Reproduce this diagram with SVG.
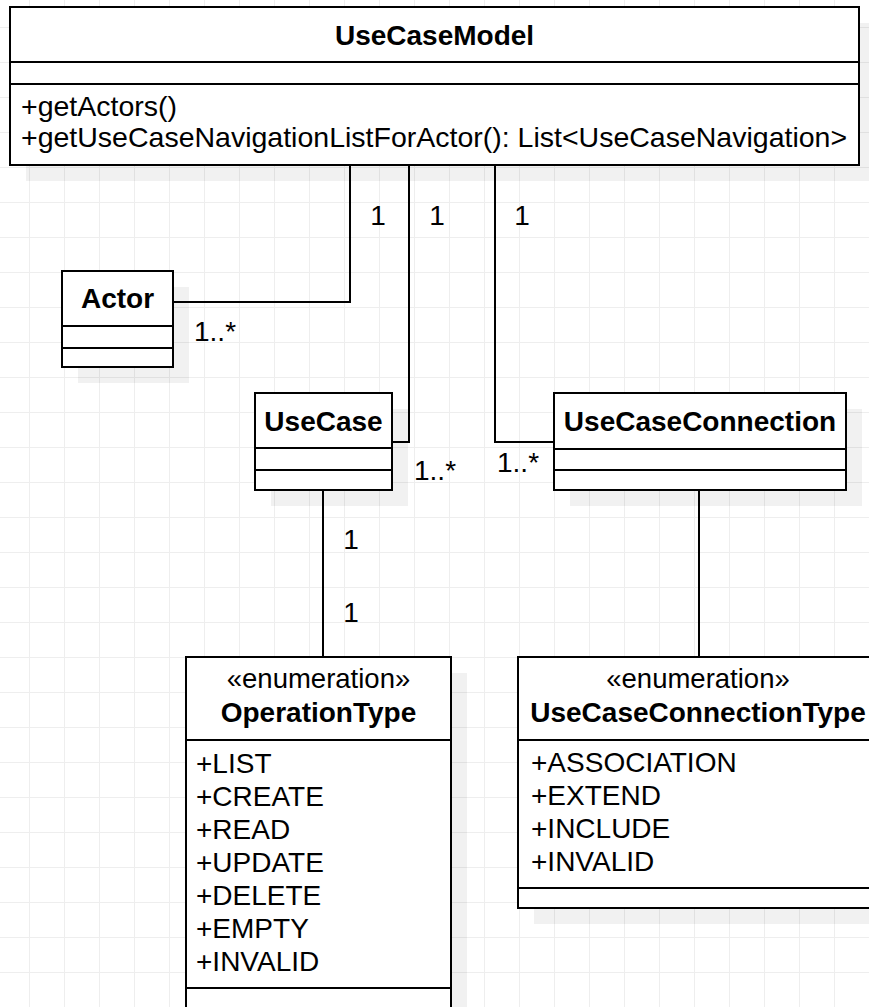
<svg xmlns="http://www.w3.org/2000/svg" width="869" height="1007" viewBox="0 0 869 1007">
  <defs>
    <pattern id="grid" x="29" y="27" width="35" height="35" patternUnits="userSpaceOnUse">
      <path d="M0 0.5 H35 M0.5 0 V35" fill="none" stroke="#eeeeee" stroke-width="1"/>
    </pattern>
    <style>
      .box { fill: #ffffff; stroke: #000000; stroke-width: 2; }
      .sep { stroke: #000000; stroke-width: 2; fill: none; }
      .shadow { fill: #000000; fill-opacity: 0.055; }
      .edge { fill: none; stroke: #000000; stroke-width: 2; }
      text { font-family: "Liberation Sans", Arial, sans-serif; fill: #000000; }
      .title { font-size: 28px; font-weight: bold; text-anchor: middle; }
      .stereo { font-size: 27.5px; text-anchor: middle; }
      .member { font-size: 28px; }
      .label { font-size: 28px; }
    </style>
  </defs>

  <!-- canvas and grid -->
  <rect width="869" height="1007" fill="#ffffff"/>
  <rect width="869" height="1007" fill="url(#grid)"/>

  <!-- drop shadows -->
  <g id="shadows">
    <rect class="shadow" x="26" y="23" width="849" height="158"/>
    <rect class="shadow" x="78" y="287" width="111" height="96"/>
    <rect class="shadow" x="271" y="409" width="137" height="97"/>
    <rect class="shadow" x="570" y="409" width="292" height="97"/>
    <rect class="shadow" x="202" y="673" width="265" height="353"/>
    <rect class="shadow" x="534" y="673" width="360" height="251"/>
  </g>

  <!-- associations -->
  <g id="connectors">
    <polyline class="edge" points="350,165 350,302 173,302"/>
    <polyline class="edge" points="409,165 409,442 392,442"/>
    <polyline class="edge" points="495,165 495,442 554,442"/>
    <line class="edge" x1="323" y1="490" x2="323" y2="657"/>
    <line class="edge" x1="699" y1="490" x2="699" y2="657"/>
    <text class="label" x="378" y="225" text-anchor="middle">1</text>
    <text class="label" x="437" y="225" text-anchor="middle">1</text>
    <text class="label" x="522" y="225" text-anchor="middle">1</text>
    <text class="label" x="194" y="341">1..*</text>
    <text class="label" x="414" y="480">1..*</text>
    <text class="label" x="497" y="472">1..*</text>
    <text class="label" x="351" y="549" text-anchor="middle">1</text>
    <text class="label" x="351" y="622" text-anchor="middle">1</text>
  </g>

  <!-- UseCaseModel -->
  <g id="UseCaseModel">
    <rect class="box" x="10" y="7" width="849" height="158"/>
    <line class="sep" x1="10" y1="62" x2="859" y2="62"/>
    <line class="sep" x1="10" y1="84" x2="859" y2="84"/>
    <text class="title" x="434.5" y="45">UseCaseModel</text>
    <text class="member" x="21" y="116" style="font-size:28.5px">+getActors()</text>
    <text class="member" x="21" y="147" style="font-size:28.5px">+getUseCaseNavigationListForActor(): List&lt;UseCaseNavigation&gt;</text>
  </g>

  <!-- Actor -->
  <g id="Actor">
    <rect class="box" x="62" y="271" width="111" height="96"/>
    <line class="sep" x1="62" y1="326" x2="173" y2="326"/>
    <line class="sep" x1="62" y1="348" x2="173" y2="348"/>
    <text class="title" x="117.5" y="308">Actor</text>
  </g>

  <!-- UseCase -->
  <g id="UseCase">
    <rect class="box" x="255" y="393" width="137" height="97"/>
    <line class="sep" x1="255" y1="448" x2="392" y2="448"/>
    <line class="sep" x1="255" y1="470" x2="392" y2="470"/>
    <text class="title" x="323.5" y="431">UseCase</text>
  </g>

  <!-- UseCaseConnection -->
  <g id="UseCaseConnection">
    <rect class="box" x="554" y="393" width="292" height="97"/>
    <line class="sep" x1="554" y1="449" x2="846" y2="449"/>
    <line class="sep" x1="554" y1="470" x2="846" y2="470"/>
    <text class="title" x="700" y="431">UseCaseConnection</text>
  </g>

  <!-- OperationType enumeration -->
  <g id="OperationType">
    <rect class="box" x="186" y="657" width="265" height="353"/>
    <line class="sep" x1="186" y1="740" x2="451" y2="740"/>
    <line class="sep" x1="186" y1="988" x2="451" y2="988"/>
    <text class="stereo" x="318.5" y="688">«enumeration»</text>
    <text class="title" x="318.5" y="722">OperationType</text>
    <text class="member" x="196" y="773">+LIST</text>
    <text class="member" x="196" y="806">+CREATE</text>
    <text class="member" x="196" y="839">+READ</text>
    <text class="member" x="196" y="872">+UPDATE</text>
    <text class="member" x="196" y="905">+DELETE</text>
    <text class="member" x="196" y="938">+EMPTY</text>
    <text class="member" x="196" y="971">+INVALID</text>
  </g>

  <!-- UseCaseConnectionType enumeration -->
  <g id="UseCaseConnectionType">
    <rect class="box" x="518" y="657" width="360" height="251"/>
    <line class="sep" x1="518" y1="740" x2="878" y2="740"/>
    <line class="sep" x1="518" y1="888" x2="878" y2="888"/>
    <text class="stereo" x="698" y="688">«enumeration»</text>
    <text class="title" x="698" y="722">UseCaseConnectionType</text>
    <text class="member" x="531" y="772">+ASSOCIATION</text>
    <text class="member" x="531" y="805">+EXTEND</text>
    <text class="member" x="531" y="838">+INCLUDE</text>
    <text class="member" x="531" y="871">+INVALID</text>
  </g>
</svg>
